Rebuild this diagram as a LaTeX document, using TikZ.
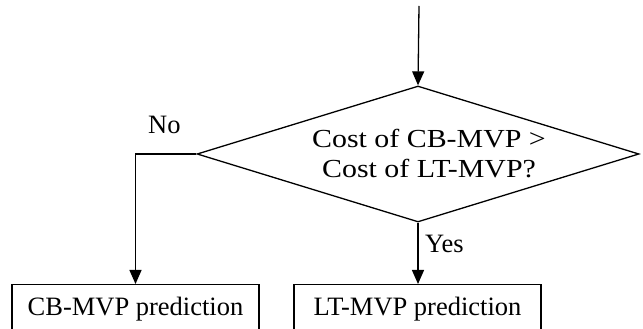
\documentclass[tikz,border=0pt]{standalone}
\usepackage{fontspec}
\setmainfont{Liberation Serif}
\newfontfamily\widefont[FakeStretch=1.15]{Liberation Serif}
\usetikzlibrary{arrows.meta,shapes.geometric}
\begin{document}
\begin{tikzpicture}[x=1pt,y=1pt,
  every node/.style={font=\fontsize{26.5}{30}\selectfont},
  line/.style={line width=1.3pt},
  arr/.style={line, -{Triangle[length=14pt,width=12pt]}},
  decision/.style={diamond, draw, line width=1.3pt, minimum width=442pt, minimum height=136pt, inner sep=0pt},
  dtext/.style={align=center, font=\widefont\fontsize{26}{30}\selectfont},
  outbox/.style={rectangle, draw, line width=1.3pt, anchor=north, minimum width=247pt, inner sep=0pt, text height=30.5pt, text depth=22pt}]
\useasboundingbox (0,0) rectangle (643,329);
\clip (0,0) rectangle (643,329);
\coordinate (start) at (419,323);
\node[decision] (d) at (418,175) {};
\node[dtext] (dt) at (429,175) {Cost of CB-MVP >\\Cost of LT-MVP?};
\node[outbox] (cb) at (135.5,45) {CB-MVP prediction};
\node[outbox] (lt) at (417.5,45) {LT-MVP prediction};
\coordinate (corner) at (cb.north |- d.west);
\draw[arr] (start) -- (d.north);
\draw[arr] (d.west) -- (corner) -- (cb.north);
\draw[arr] (d.south) -- (d.south |- lt.north);
\node[anchor=base west, inner sep=0pt] (yes) at (425,76) {Yes};
\node[anchor=base west, inner sep=0pt] (no) at (148,195) {No};
\end{tikzpicture}
\end{document}
